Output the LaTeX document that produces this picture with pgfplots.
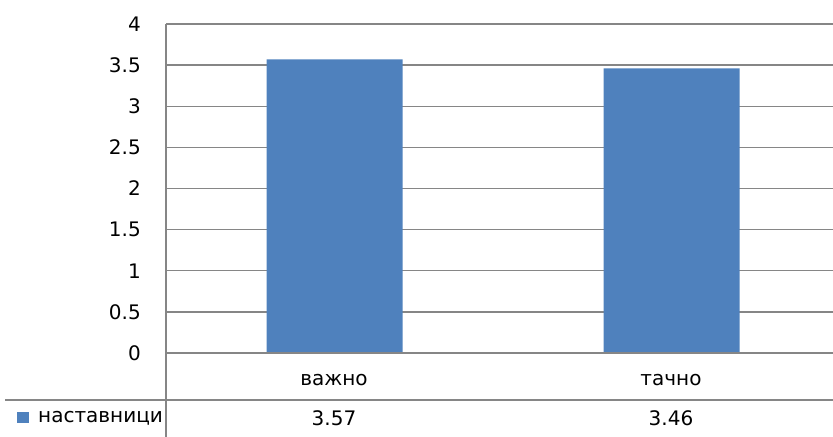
\documentclass[border=0pt]{standalone}
\usepackage{pgfplots}
\pgfplotsset{compat=1.18}
\usepackage{fontspec}
\setmainfont{DejaVu Sans}
\definecolor{barblue}{HTML}{4F81BD}
\definecolor{gridgray}{HTML}{868686}
\begin{document}
\begin{tikzpicture}[x=1bp,y=1bp,font=\fontsize{20bp}{24bp}\selectfont]
\useasboundingbox (0,0) rectangle (833,437);
\begin{axis}[at={(166bp,84bp)}, anchor=south west, scale only axis,
  width=667bp, height=329bp,
  xmin=-0.5, xmax=1.479, ymin=0, ymax=4,
  axis line style={draw=none},
  ytick={0,0.5,1,1.5,2,2.5,3,3.5,4},
  yticklabels={0,0.5,1,1.5,2,2.5,3,3.5,4},
  xtick=\empty,
  ymajorgrids, major grid style={gridgray, line width=1.4bp},
  major tick length=0pt,
  yticklabel style={anchor=east, inner sep=0pt, xshift=-25bp},
  clip=false]
\addplot[ybar, fill=barblue, draw=none, bar width=136bp] coordinates {(0,3.57) (1,3.46)};
\end{axis}
\draw[gridgray, line width=1.8bp] (166,84) -- (833,84);
\draw[gridgray, line width=1.8bp] (5,37) -- (833,37);
\draw[gridgray, line width=1.8bp] (166,0) -- (166,413);
\node at (334,57) {важно};
\node at (671,57) {тачно};
\node at (334,19) {3.57};
\node at (671,19) {3.46};
\fill[barblue] (17,14) rectangle (29,25);
\node[anchor=west, inner sep=0pt] at (38,19) {наставници};
\end{tikzpicture}
\end{document}
